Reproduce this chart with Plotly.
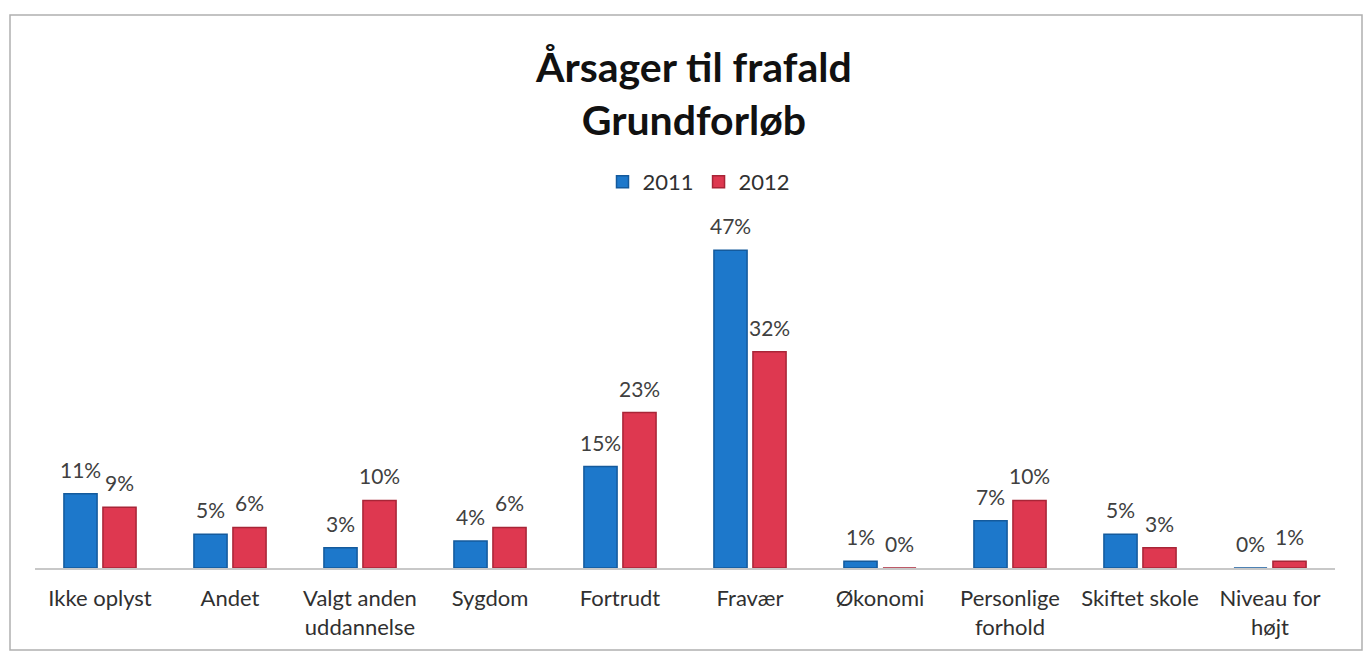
import plotly.graph_objects as go

categories = ["Ikke oplyst", "Andet", "Valgt anden<br>uddannelse", "Sygdom", "Fortrudt",
              "Fravær", "Økonomi", "Personlige<br>forhold", "Skiftet skole", "Niveau for<br>højt"]
values_2011 = [11, 5, 3, 4, 15, 47, 1, 7, 5, 0]
values_2012 = [9, 6, 10, 6, 23, 32, 0, 10, 3, 1]
labels_2011 = ["11%", "5%", "3%", "4%", "15%", "47%", "1%", "7%", "5%", "0%"]
labels_2012 = ["9%", "6%", "10%", "6%", "23%", "32%", "0%", "10%", "3%", "1%"]

FONT = "Lato, 'Open Sans', sans-serif"
LABEL_FONT = dict(size=21, color="#404040", family=FONT)

fig = go.Figure()
fig.add_trace(go.Bar(
    name="2011", x=categories, y=values_2011,
    marker=dict(color="#1D78CB", line=dict(color="#145A9C", width=1.5)),
    hovertemplate="%{x}: %{y}%<extra>2011</extra>",
))
fig.add_trace(go.Bar(
    name="2012", x=categories, y=values_2012,
    marker=dict(color="#DE3850", line=dict(color="#A82537", width=1.5)),
    hovertemplate="%{x}: %{y}%<extra>2012</extra>",
))

annotations = []
for vals, labs, xs in ((values_2011, labels_2011, -19.5), (values_2012, labels_2012, 19.5)):
    for cat, v, lab in zip(categories, vals, labs):
        annotations.append(dict(
            x=cat, y=v, xref="x", yref="y", text=lab, showarrow=False,
            xanchor="center", yanchor="bottom", xshift=xs, yshift=10,
            font=LABEL_FONT,
        ))

annotations.append(dict(
    text="<b>Årsager til frafald<br>Grundforløb</b>", xref="paper", yref="paper",
    x=(693 - 35) / 1300, y=(568 - 93) / 338, xanchor="center", yanchor="middle",
    showarrow=False, font=dict(size=41, color="#111111", family=FONT)))

fig.update_layout(
    width=1367, height=654,
    margin=dict(l=35, r=32, t=230, b=86),
    paper_bgcolor="white", plot_bgcolor="white",
    barmode="group", bargap=0.4, bargroupgap=0.15,
    font=dict(family=FONT, color="#303030"),
    showlegend=True,
    legend=dict(orientation="h", x=(699 - 35) / 1300, xanchor="center",
                y=(568 - 182) / 338, yanchor="middle",
                font=dict(size=22, color="#303030", family=FONT), traceorder="normal",
                itemwidth=30),
    xaxis=dict(showgrid=False, showline=True, linecolor="#C8C8C8", linewidth=1.5,
               ticks="", ticklabelstandoff=10,
               tickfont=dict(size=22, color="#303030", family=FONT)),
    yaxis=dict(range=[0, 50], visible=False, showgrid=False),
    annotations=annotations,
    shapes=[
        dict(type="rect", xref="paper", yref="paper",
             x0=(10 - 35) / 1300, x1=(1362 - 35) / 1300,
             y0=(568 - 650) / 338, y1=(568 - 15) / 338,
             line=dict(color="#B0B0B0", width=1.5), fillcolor="rgba(0,0,0,0)", layer="below"),
    ],
)

fig.write_html("out.html", config={"displayModeBar": False},
               post_script="document.body.style.margin='0';")
